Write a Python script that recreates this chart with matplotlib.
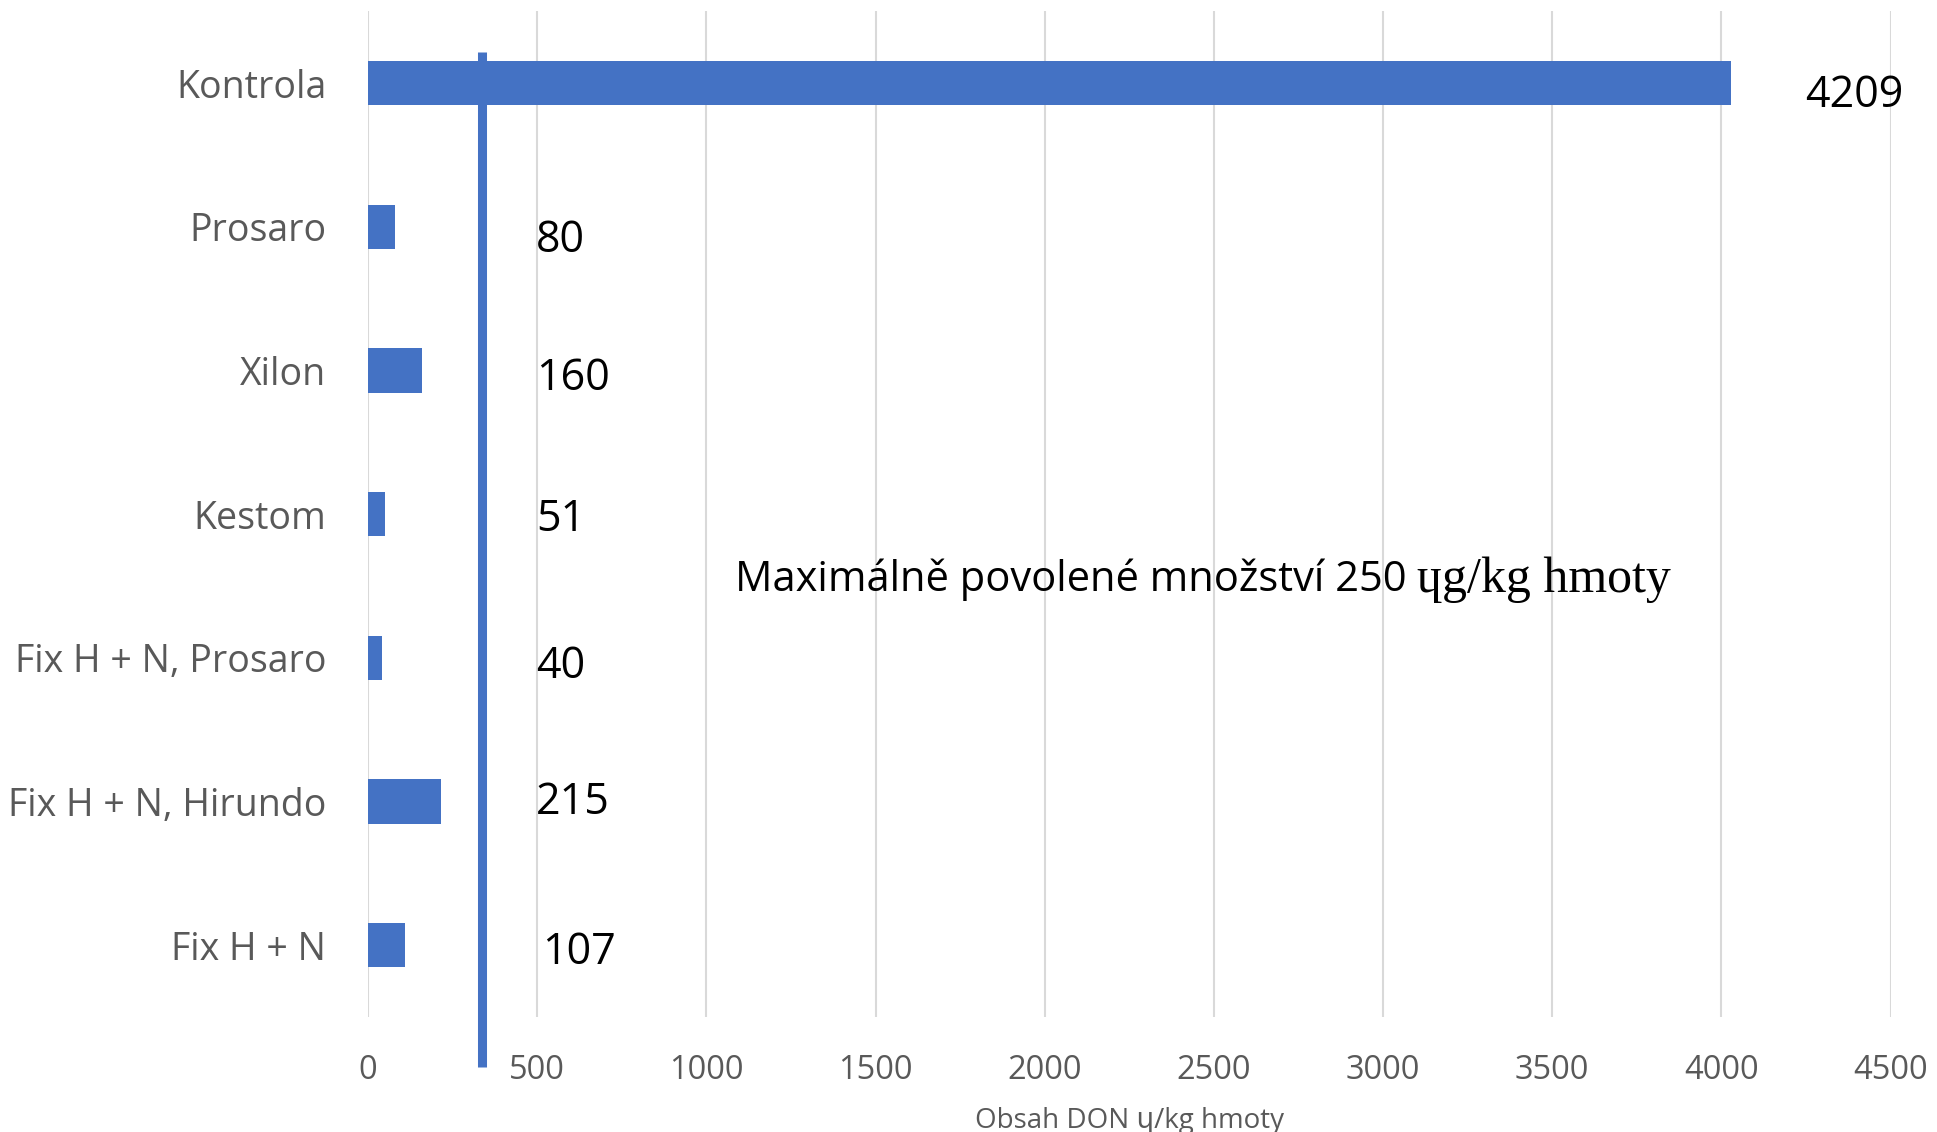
import matplotlib.pyplot as plt

# data
kategorie = ["Kontrola", "Prosaro", "Xilon", "Kestom",
             "Fix H + N, Prosaro", "Fix H + N, Hirundo", "Fix H + N"]
don = [4030, 80, 160, 51, 40, 215, 109]          # bar lengths as drawn
popisky = ["4209", "80", "160", "51", "40", "215", "107"]  # labels as printed
popisky_x = [4249, 496, 496, 496, 496, 496, 514]
popisky_dy = [0.09, 0.10, 0.06, 0.04, 0.06, 0.01, 0.05]
limit = 337      # vertical line position on the axis
xticks = [0, 500, 1000, 1500, 2000, 2500, 3000, 3500, 4000, 4500]

modra = "#4472C4"
seda = "#595959"
sans = ["Open Sans", "DejaVu Sans"]
serif = ["Liberation Serif", "DejaVu Serif"]

fig = plt.figure(figsize=(19.37, 11.32), dpi=100)
ax = fig.add_axes([0.19, 0.1016, 0.786, 0.8884])

y = list(range(len(kategorie)))
ax.barh(y, don, height=0.31, color=modra, zorder=3)

for i in y:
    ax.text(popisky_x[i], i + popisky_dy[i], popisky[i], fontsize=31,
            family=sans, color="black", va="center", ha="left")

ax.plot([limit, limit], [-0.22, 6.85], color=modra, lw=6.5,
        solid_capstyle="butt", clip_on=False, zorder=4)

ax.set_xlim(0, 4500)
ax.set_ylim(6.5, -0.5)
ax.set_xticks(xticks)
ax.set_yticks(y)
ax.set_yticklabels(kategorie)
ax.tick_params(axis="x", length=0, pad=27, labelsize=23.5, labelcolor=seda)
ax.tick_params(axis="y", length=0, pad=30, labelsize=27, labelcolor=seda)
for lab in ax.get_xticklabels() + ax.get_yticklabels():
    lab.set_family(sans)
ax.grid(True, axis="x", color="#d9d9d9", lw=1.5, zorder=0)
for s in ax.spines.values():
    s.set_visible(False)

ax.set_xlabel("Obsah DON \u0265/kg hmoty", fontsize=20, color=seda,
              family=sans, labelpad=14)

# annotation: sans part followed by serif part
t1 = ax.text(1084, 3.46, "Maximálně povolené množství 250 ", fontsize=30,
             family=sans, color="black", va="center", ha="left")
fig.canvas.draw()
r = fig.canvas.get_renderer()
bb = t1.get_window_extent(renderer=r)
x_end = ax.transData.inverted().transform((bb.x1, 0))[0]
ax.text(x_end, 3.46, "\u0265g/kg hmoty", fontsize=36, family=serif,
        color="black", va="center", ha="left")

fig.savefig("out.png", dpi=100)
